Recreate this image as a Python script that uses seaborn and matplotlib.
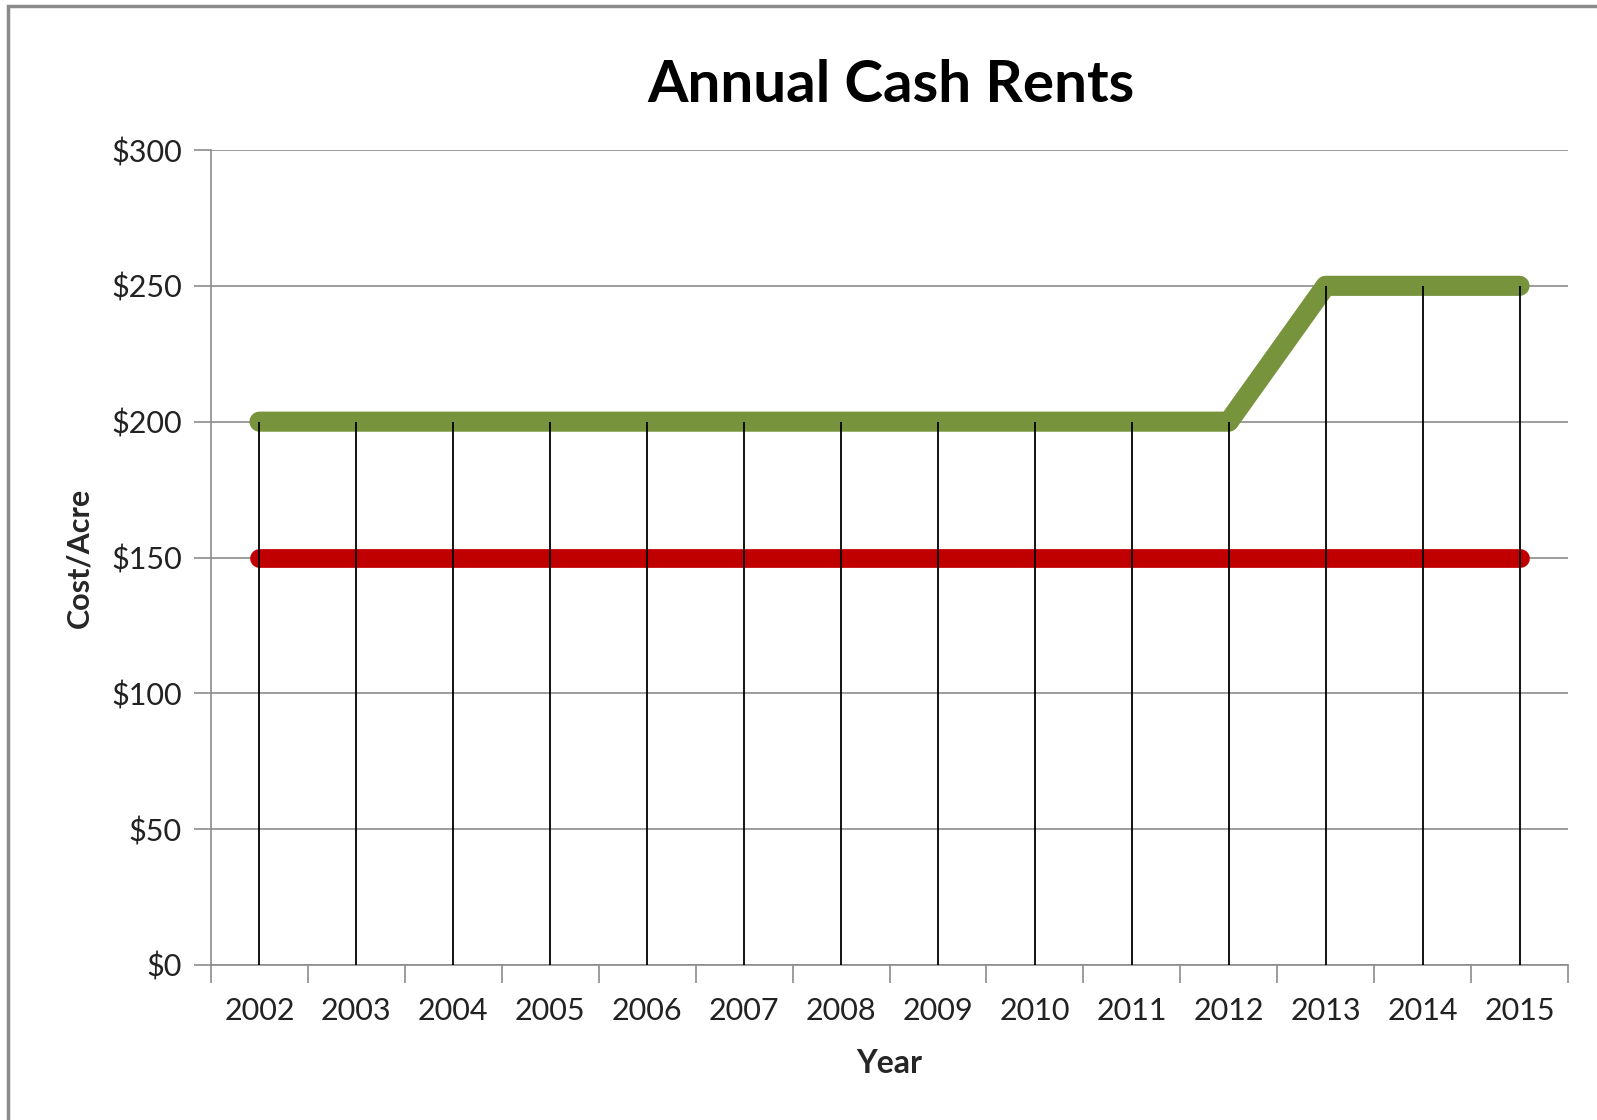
import numpy as np
import pandas as pd
import matplotlib.pyplot as plt
import seaborn as sns
from matplotlib.patches import Rectangle

years = [2002, 2003, 2004, 2005, 2006, 2007, 2008, 2009, 2010, 2011, 2012, 2013, 2014, 2015]
rent_high = [200, 200, 200, 200, 200, 200, 200, 200, 200, 200, 200, 250, 250, 250]
rent_low = [150, 150, 150, 150, 150, 150, 150, 150, 150, 150, 150, 150, 150, 150]
y_ticks = [0, 50, 100, 150, 200, 250, 300]

df = pd.DataFrame({
    'Year': years * 2,
    'Cost': rent_high + rent_low,
    'Series': ['high'] * len(years) + ['low'] * len(years),
})

sns.set_style('white')
plt.rcParams['font.family'] = ['Lato', 'DejaVu Sans']

fig = plt.figure(figsize=(15.97, 11.2), dpi=100)
ax = fig.add_axes([211 / 1597, 1 - 965 / 1120, (1568 - 211) / 1597, (965 - 150) / 1120])

sns.lineplot(
    data=df[df['Series'] == 'high'], x='Year', y='Cost',
    color='#77933C', linewidth=14.5, solid_capstyle='round', ax=ax, zorder=3,
)
sns.lineplot(
    data=df[df['Series'] == 'low'], x='Year', y='Cost',
    color='#C00000', linewidth=13.5, solid_capstyle='round', ax=ax, zorder=3,
)

# drop lines from highest point to the axis
tops = np.maximum(rent_high, rent_low)
ax.vlines(years, 0, tops, colors='black', linewidth=1.3, zorder=4)

ax.set_xlim(years[0] - 0.5, years[-1] + 0.5)
ax.set_ylim(0, 300)
ax.set_yticks(y_ticks)
ax.set_yticklabels([f'${v}' for v in y_ticks], fontsize=22, color='#222222')
ax.set_xticks(years)
ax.set_xticklabels([str(y) for y in years], fontsize=22, color='#222222')
ax.set_xticks([y + 0.5 for y in [years[0] - 1] + years], minor=True)

ax.grid(axis='y', color='#8c8c8c', linewidth=1.2, zorder=0)
ax.grid(axis='x', visible=False)
for s in ['top', 'right']:
    ax.spines[s].set_visible(False)
for s in ['left', 'bottom']:
    ax.spines[s].set_color('#8c8c8c')
    ax.spines[s].set_linewidth(1.2)

ax.tick_params(axis='y', which='major', length=12, width=1.2, color='#8c8c8c', pad=9, left=True)
ax.tick_params(axis='x', which='major', length=0, pad=23)
ax.tick_params(axis='x', which='minor', length=13, width=1.2, color='#8c8c8c', bottom=True)

ax.set_xlabel('Year', fontsize=23, fontweight='bold', labelpad=17)
ax.set_ylabel('Cost/Acre', fontsize=22, fontweight='bold', labelpad=13)
fig.text(891 / 1597, 1 - 85 / 1120, 'Annual Cash Rents', ha='center', va='center',
         fontsize=42, fontweight='bold', color='black')

fig.patches.append(Rectangle((8 / 1597, -0.1), 1.2, 1 - 6 / 1120 + 0.1, transform=fig.transFigure,
                             fill=False, edgecolor='#8a8a8a', linewidth=2.5))

fig.savefig('out.png', dpi=100)
